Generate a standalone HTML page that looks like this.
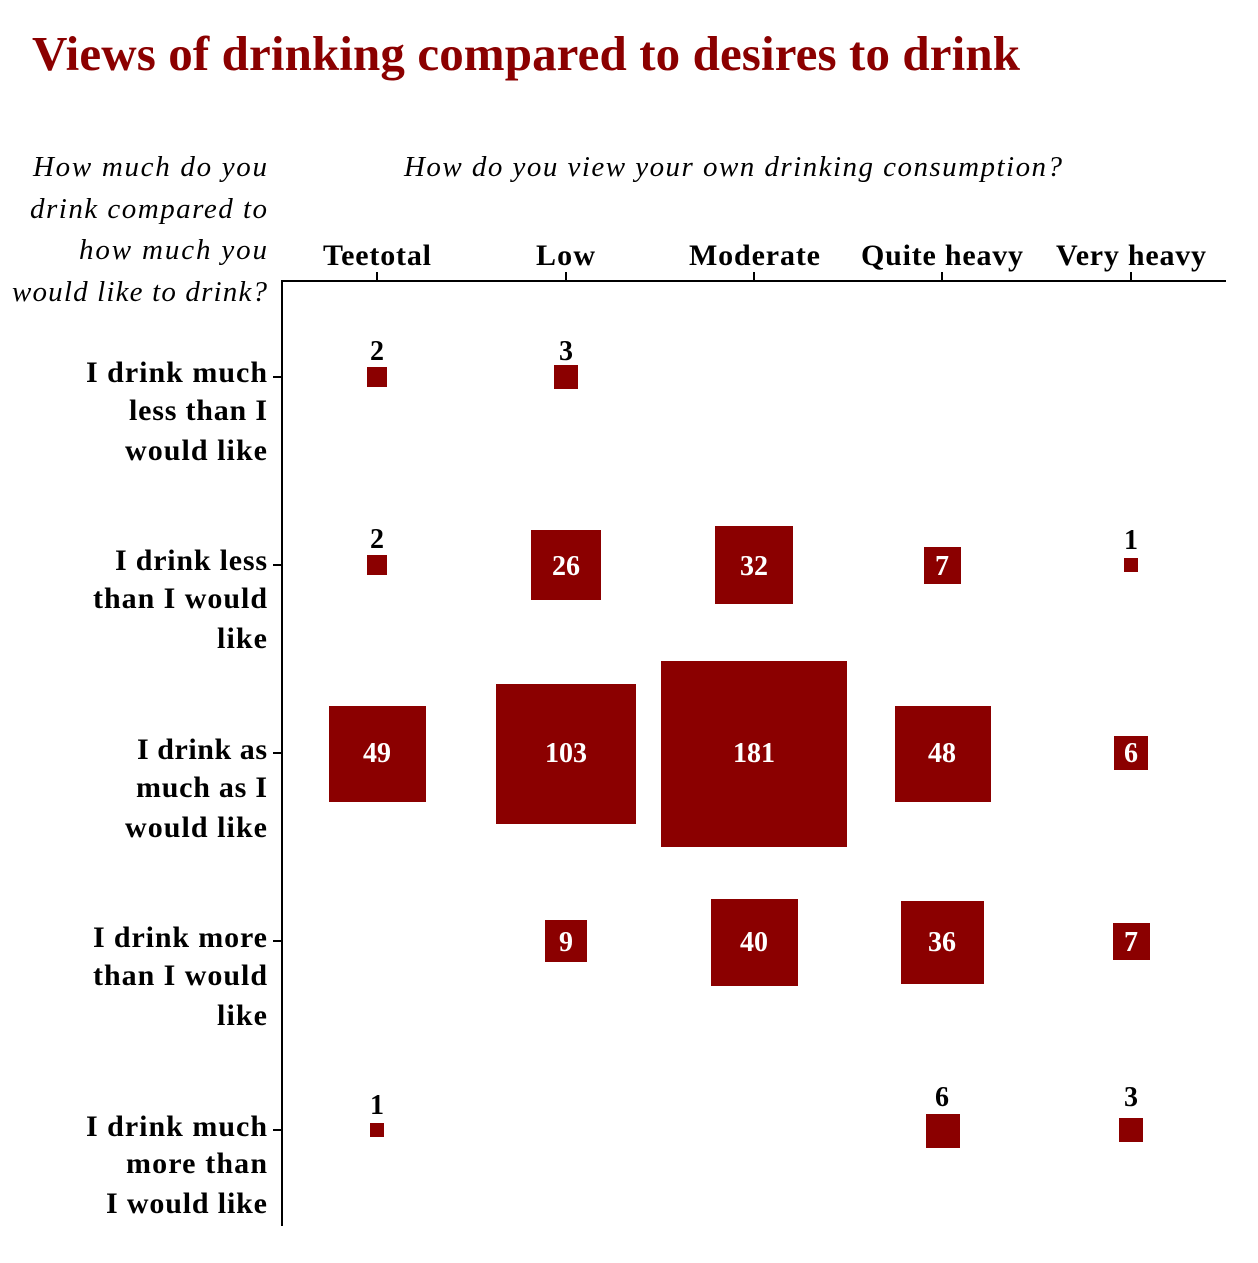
<!DOCTYPE html>
<html><head><style>body{margin:0;background:#fff}</style></head><body>
<svg width="1258" height="1258" xmlns="http://www.w3.org/2000/svg" font-family="Liberation Serif, serif">
<rect width="1258" height="1258" fill="#fff"/>
<text x="32" y="70" font-size="49" font-weight="bold" fill="#8b0000" textLength="988">Views of drinking compared to desires to drink</text>
<g font-size="29" font-style="italic" text-anchor="end" fill="#000">
<text x="267" y="176" textLength="234">How much do you</text>
<text x="267" y="218" textLength="237">drink compared to</text>
<text x="267" y="259" textLength="188">how much you</text>
<text x="267" y="301" textLength="255">would like to drink?</text>
</g>
<text x="404" y="176" font-size="29" font-style="italic" textLength="658">How do you view your own drinking consumption?</text>
<g font-size="30" font-weight="bold">
<text x="323" y="265" textLength="108">Teetotal</text><text x="536" y="265" textLength="59">Low</text><text x="689" y="265" textLength="131">Moderate</text><text x="861" y="265" textLength="162">Quite heavy</text><text x="1056" y="265" textLength="150">Very heavy</text>
</g>
<g stroke="#000" stroke-width="2" fill="none">
<path d="M282 281V1226M281 281H1226"/>
<path d="M377 281v-9M566 281v-9M754 281v-9M942 281v-9M1131 281v-9"/>
<path d="M282 377h-9M282 565h-9M282 753h-9M282 941h-9M282 1130h-9"/>
</g>
<g font-size="30" font-weight="bold" text-anchor="end">
<text x="267" y="382" textLength="181">I drink much</text><text x="267" y="420" textLength="138">less than I</text><text x="267" y="460" textLength="142">would like</text>
<text x="267" y="570" textLength="152">I drink less</text><text x="267" y="608" textLength="174">than I would</text><text x="267" y="648" textLength="50">like</text>
<text x="267" y="759" textLength="130">I drink as</text><text x="267" y="797" textLength="131">much as I</text><text x="267" y="837" textLength="142">would like</text>
<text x="267" y="947" textLength="174">I drink more</text><text x="267" y="985" textLength="174">than I would</text><text x="267" y="1025" textLength="50">like</text>
<text x="267" y="1136" textLength="181">I drink much</text><text x="267" y="1173" textLength="141">more than</text><text x="267" y="1213" textLength="161">I would like</text>
</g>
<g fill="#8b0000">
<rect x="367" y="367" width="20" height="20"/>
<rect x="554" y="365" width="24" height="24"/>
<rect x="367" y="555" width="20" height="20"/>
<rect x="531" y="530" width="70" height="70"/>
<rect x="715" y="526" width="78" height="78"/>
<rect x="924" y="547" width="37" height="37"/>
<rect x="1124" y="558" width="14" height="14"/>
<rect x="329" y="706" width="97" height="96"/>
<rect x="496" y="684" width="140" height="140"/>
<rect x="661" y="661" width="186" height="186"/>
<rect x="895" y="706" width="96" height="96"/>
<rect x="1114" y="736" width="34" height="34"/>
<rect x="545" y="920" width="42" height="42"/>
<rect x="711" y="899" width="87" height="87"/>
<rect x="901" y="901" width="83" height="83"/>
<rect x="1113" y="923" width="37" height="37"/>
<rect x="370" y="1123" width="14" height="14"/>
<rect x="926" y="1114" width="34" height="34"/>
<rect x="1119" y="1118" width="24" height="24"/>
</g>
<g font-size="28" font-weight="bold" text-anchor="middle">
<text x="377" y="360">2</text><text x="566" y="360">3</text>
<text x="377" y="548">2</text><text x="1131" y="549">1</text>
<text x="377" y="1114">1</text><text x="942" y="1106">6</text><text x="1131" y="1106">3</text>
</g>
<g font-size="28" font-weight="bold" text-anchor="middle" fill="#fff">
<text x="566" y="575">26</text><text x="754" y="575">32</text><text x="942" y="575">7</text>
<text x="377" y="762">49</text><text x="566" y="762">103</text><text x="754" y="762">181</text><text x="942" y="762">48</text><text x="1131" y="762">6</text>
<text x="566" y="951">9</text><text x="754" y="951">40</text><text x="942" y="951">36</text><text x="1131" y="951">7</text>
</g>
</svg>
</body></html>
